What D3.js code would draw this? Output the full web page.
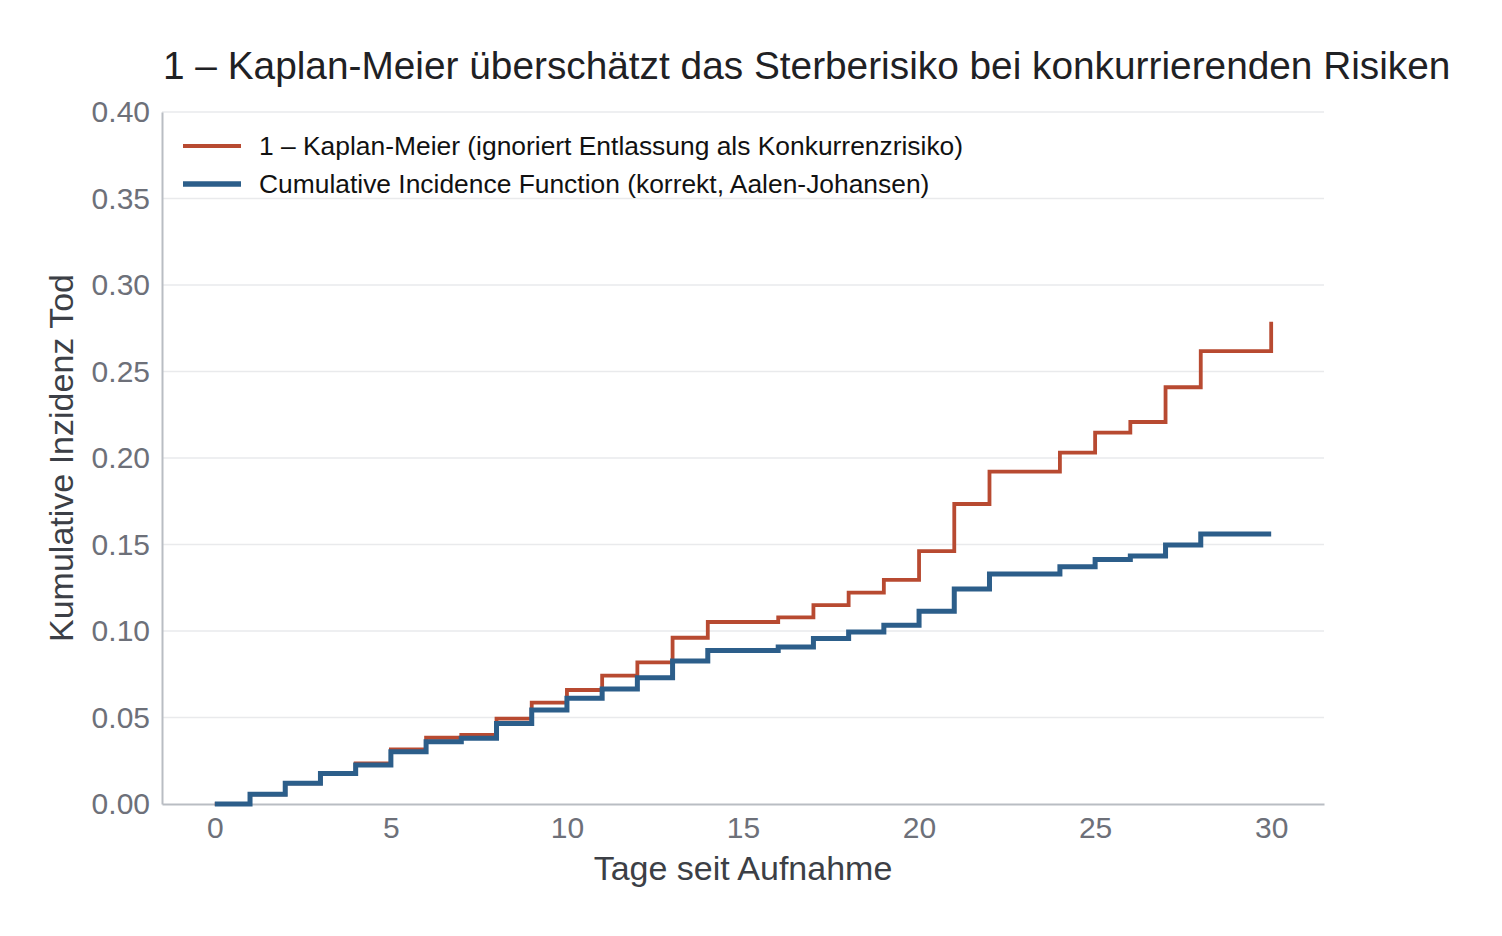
<!DOCTYPE html>
<html><head><meta charset="utf-8">
<script src="https://cdn.jsdelivr.net/npm/d3@7"></script>
<style>body{margin:0;background:#fff;} svg{display:block;}</style>
</head><body>
<script>
const days = [0,1,2,3,4,5,6,7,8,9,10,11,12,13,14,15,16,17,18,19,20,21,22,23,24,25,26,27,28,29,30];
const kmValues = [0,0.0056,0.012,0.0177,0.0235,0.0316,0.0383,0.0399,0.0493,0.0586,0.0659,0.0742,0.0819,0.0961,0.1052,0.1052,0.1079,0.115,0.1222,0.1295,0.1462,0.1734,0.1921,0.1921,0.2031,0.2147,0.2208,0.2409,0.2618,0.2618,0.2788];
const cifValues = [0,0.0056,0.012,0.0177,0.0225,0.0302,0.036,0.038,0.0466,0.0543,0.0611,0.0665,0.073,0.0827,0.0888,0.0888,0.0908,0.0956,0.0994,0.1033,0.1114,0.1243,0.1329,0.1329,0.1372,0.1414,0.1434,0.1497,0.1561,0.1561,0.1561];
const seriesNames = ["1 – Kaplan-Meier (ignoriert Entlassung als Konkurrenzrisiko)","Cumulative Incidence Function (korrekt, Aalen-Johansen)"];
const seriesColors = ["#b84a31","#2c5e8a"];
const xTicks = [0,5,10,15,20,25,30];
const yTicks = [0,0.05,0.10,0.15,0.20,0.25,0.30,0.35,0.40];
const titleText = "1 – Kaplan-Meier überschätzt das Sterberisiko bei konkurrierenden Risiken";
const xLabel = "Tage seit Aufnahme";
const yLabel = "Kumulative Inzidenz Tod";

const W=1502,H=936;
const m={l:162,r:1324,t:112,b:804};
const font="'Liberation Sans', Arial, Helvetica, sans-serif";
const svg=d3.select("body").append("svg").attr("width",W).attr("height",H);
const x=d3.scaleLinear().domain([-1.5,31.5]).range([m.l,m.r]);
const y=d3.scaleLinear().domain([0,0.40]).range([m.b,m.t]);

// grid
svg.append("g").selectAll("line").data(yTicks.slice(1)).join("line")
  .attr("x1",m.l).attr("x2",m.r).attr("y1",d=>y(d)).attr("y2",d=>y(d))
  .attr("stroke","#e9eaec").attr("stroke-width",1.5);

// axes
const yAxis=svg.append("g").attr("transform",`translate(${m.l},0)`)
  .call(d3.axisLeft(y).tickValues(yTicks).tickFormat(d3.format(".2f")).tickSize(0).tickPadding(12));
const xAxis=svg.append("g").attr("transform",`translate(0,${m.b})`)
  .call(d3.axisBottom(x).tickValues(xTicks).tickFormat(d3.format("d")).tickSize(0).tickPadding(13));
[yAxis,xAxis].forEach(a=>{
  a.select(".domain").attr("stroke","#b9bdc3").attr("stroke-width",2);
  a.selectAll("text").attr("font-family",font).attr("font-size",30).attr("fill","#6d7079");
});

// lines
const line=d3.line().x(d=>x(d[0])).y(d=>y(d[1])).curve(d3.curveStepAfter);
const kmData=days.map((d,i)=>[d,kmValues[i]]);
const cifData=days.map((d,i)=>[d,cifValues[i]]);
svg.append("path").datum(kmData).attr("d",line).attr("fill","none")
  .attr("stroke",seriesColors[0]).attr("stroke-width",3.8).attr("stroke-linejoin","miter");
svg.append("path").datum(cifData).attr("d",line).attr("fill","none")
  .attr("stroke",seriesColors[1]).attr("stroke-width",5).attr("stroke-linejoin","miter");

// title
svg.append("text").attr("x",163).attr("y",79).text(titleText)
  .attr("font-family",font).attr("font-size",38.8).attr("fill","#1f2124");
// x label
svg.append("text").attr("x",(m.l+m.r)/2).attr("y",880).attr("text-anchor","middle").text(xLabel)
  .attr("font-family",font).attr("font-size",34).attr("fill","#3c3f46");
// y label
svg.append("text").attr("transform",`translate(73,${(m.t+m.b)/2}) rotate(-90)`).attr("text-anchor","middle").text(yLabel)
  .attr("font-family",font).attr("font-size",34).attr("fill","#3c3f46");

// legend
const lg=svg.append("g");
seriesNames.forEach((n,i)=>{
  const yy=146+i*38;
  lg.append("line").attr("x1",183).attr("x2",241).attr("y1",yy).attr("y2",yy)
    .attr("stroke",seriesColors[i]).attr("stroke-width",i===0?4:5.5);
  lg.append("text").attr("x",259).attr("y",yy+9).text(n)
    .attr("font-family",font).attr("font-size",26.4).attr("fill","#111");
});
</script>
</body></html>
